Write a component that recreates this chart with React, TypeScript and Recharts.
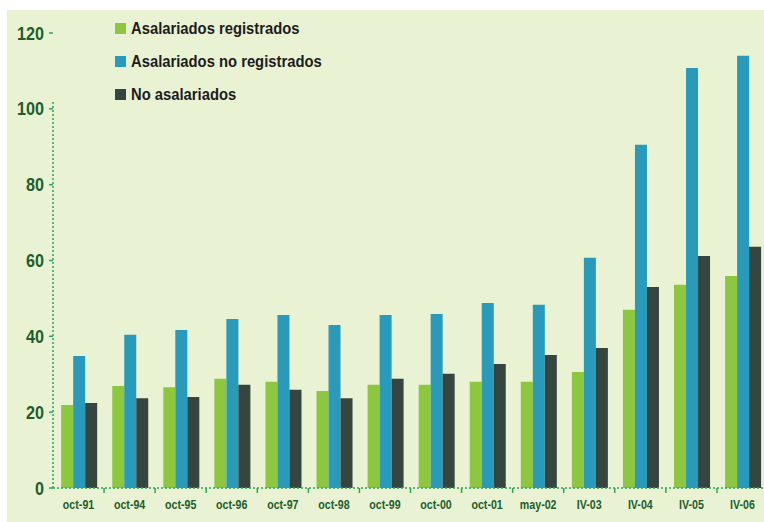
import { BarChart, Bar, XAxis, YAxis, Legend } from 'recharts';

const categories = ['oct-91', 'oct-94', 'oct-95', 'oct-96', 'oct-97', 'oct-98', 'oct-99', 'oct-00', 'oct-01', 'may-02', 'IV-03', 'IV-04', 'IV-05', 'IV-06'];
const registrados = [21.9, 26.9, 26.6, 28.8, 28.0, 25.6, 27.2, 27.2, 28.0, 28.0, 30.6, 47.0, 53.6, 55.9];
const noRegistrados = [34.8, 40.4, 41.7, 44.6, 45.6, 43.0, 45.6, 45.9, 48.8, 48.3, 60.7, 90.5, 110.8, 114.0];
const noAsalariados = [22.4, 23.7, 24.0, 27.2, 25.9, 23.7, 28.8, 30.1, 32.7, 35.1, 36.9, 53.0, 61.2, 63.6];
const yTicks = [0, 20, 40, 60, 80, 100, 120];
const seriesNames = ['Asalariados registrados', 'Asalariados no registrados', 'No asalariados'];

const data = categories.map((name, i) => ({
  name,
  registrados: registrados[i],
  noRegistrados: noRegistrados[i],
  noAsalariados: noAsalariados[i],
}));

const FONT = "'Liberation Sans', Arial, sans-serif";
const TEXT_GREEN = '#1b5e2c';
const DOT_GREEN = '#2fa55a';

const W = 764;
const H = 522;
const CHART_W = 768; // plot runs slightly past the right edge, as in the original
const LEFT = 53;
const TOP = 33;
const BOTTOM = 34;
const PLOT_H = H - TOP - BOTTOM;
const BAND = (CHART_W - LEFT) / categories.length;

const YTick = (props: any) => {
  const { x, y, payload } = props;
  return (
    <g>
      {payload.value === 0 && (
        <line x1={x} x2={x} y1={y} y2={y - PLOT_H * (102 / 120)} stroke={DOT_GREEN} strokeWidth={1.5} strokeDasharray="2 2" />
      )}
      <line x1={x - 4} x2={x} y1={y} y2={y} stroke={DOT_GREEN} strokeWidth={1.5} />
      <text transform={`translate(${x - 9},${y + 6.5}) scale(0.85,1)`} textAnchor="end" fill={TEXT_GREEN} fontSize={19} fontWeight="bold" fontFamily={FONT}>
        {payload.value}
      </text>
    </g>
  );
};

const XTick = (props: any) => {
  const { x, y, payload, index } = props;
  return (
    <g>
      {index < categories.length - 1 && (
        <line x1={x + BAND / 2} x2={x + BAND / 2} y1={y} y2={y + 5} stroke={DOT_GREEN} strokeWidth={1.5} />
      )}
      <text transform={`translate(${x},${y + 21}) scale(0.82,1)`} textAnchor="middle" fill={TEXT_GREEN} fontSize={13} fontWeight="bold" fontFamily={FONT}>
        {payload.value}
      </text>
    </g>
  );
};

const LegendBox = (props: any) => {
  const items = [...(props.payload || [])].sort(
    (a: any, b: any) => seriesNames.indexOf(a.value) - seriesNames.indexOf(b.value)
  );
  return (
    <div>
      {items.map((entry: any) => (
        <div key={entry.value} style={{ display: 'flex', alignItems: 'center', height: 33 }}>
          <span style={{ width: 11, height: 11, background: entry.color, marginRight: 5, display: 'inline-block', flexShrink: 0 }} />
          <span
            style={{
              fontFamily: FONT,
              fontWeight: 'bold',
              fontSize: 17,
              color: '#1c1c1c',
              display: 'inline-block',
              whiteSpace: 'nowrap',
              transform: 'scaleX(0.87)',
              transformOrigin: 'left center',
            }}
          >
            {entry.value}
          </span>
        </div>
      ))}
    </div>
  );
};

export default function App() {
  return (
    <div style={{ position: 'absolute', left: 0, top: 0, width: W, height: H, background: '#ffffff', overflow: 'hidden' }}>
      <div style={{ position: 'absolute', left: 7, top: 10, width: W - 7, height: H - 10, background: '#e9f2d2' }} />
      <div style={{ position: 'absolute', left: 0, top: 0 }}>
        <BarChart width={CHART_W} height={H} data={data} margin={{ top: TOP, right: 0, left: 0, bottom: 4 }} barCategoryGap="16%" barGap={0}>
          <YAxis
            domain={[0, 120]}
            ticks={yTicks}
            width={LEFT}
            axisLine={false}
            tickLine={false}
            tickSize={0}
            tickMargin={0}
            tick={<YTick />}
            interval={0}
          />
          <XAxis
            dataKey="name"
            height={30}
            axisLine={{ stroke: DOT_GREEN, strokeWidth: 1.5, strokeDasharray: '2 2' }}
            tickLine={false}
            tickSize={0}
            tickMargin={0}
            tick={<XTick />}
            interval={0}
          />
          <Legend
            layout="vertical"
            align="center"
            verticalAlign="middle"
            content={<LegendBox />}
            wrapperStyle={{ position: 'absolute', left: 115, top: 12, width: 320 }}
          />
          <Bar dataKey="registrados" name={seriesNames[0]} fill="#8dc63f" isAnimationActive={false} />
          <Bar dataKey="noRegistrados" name={seriesNames[1]} fill="#2a9aba" isAnimationActive={false} />
          <Bar dataKey="noAsalariados" name={seriesNames[2]} fill="#354540" isAnimationActive={false} />
        </BarChart>
      </div>
    </div>
  );
}
